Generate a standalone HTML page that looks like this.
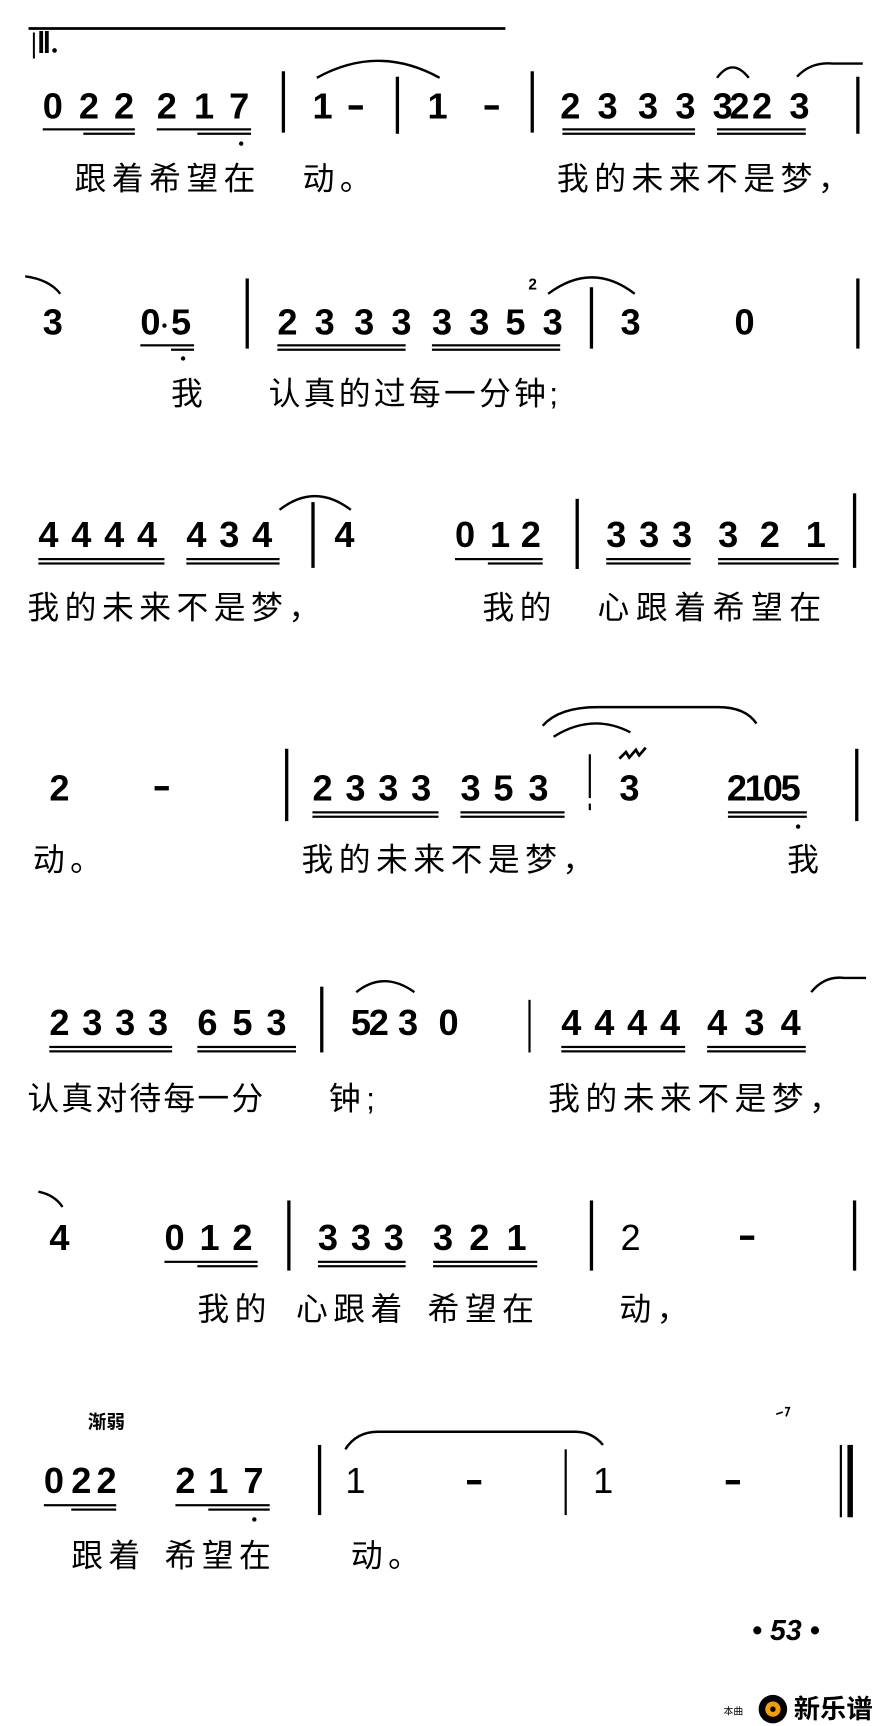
<!DOCTYPE html>
<html><head><meta charset="utf-8">
<style>
html,body{margin:0;padding:0;background:#fff;}
body{width:888px;height:1722px;overflow:hidden;position:relative;}
#w{position:absolute;left:0;top:0;width:810px;height:1571px;transform:scale(1.0963);transform-origin:0 0;}
.d{position:absolute;font:bold 33px/34px "Liberation Sans",sans-serif;color:#000;}
.l{position:absolute;font:29px/28px "Liberation Sans","Noto Sans CJK SC",sans-serif;color:#000;letter-spacing:5px;white-space:nowrap;}
.b{position:absolute;width:3px;background:#000;}
.u{position:absolute;height:2px;background:#000;}
.m{position:absolute;height:4px;width:13px;background:#000;}
.dot{position:absolute;width:4px;height:4px;border-radius:50%;background:#000;}
svg{position:absolute;left:0;top:0;}
</style></head><body><div id="w">
<svg width="810" height="1571" fill="none" stroke="#000" stroke-width="2.2">
<line x1="26" y1="26" x2="461" y2="26" stroke-width="2.5"/>
<path d="M289 71 Q345 40 401 71"/>
<path d="M654 71 Q668 52 683 71"/>
<path d="M727 70 Q740 56 760 58 L787 58"/>
<path d="M23 252 Q45 255 55 268"/>
<path d="M500 268 Q540 238 579 268"/>
<path d="M255 465 Q287 440 320 465"/>
<path d="M495 662 Q510 645 545 645 L655 645 Q680 645 690 660"/>
<path d="M505 672 Q540 650 575 668"/>
<path d="M565 692 l6 -6 l3 5 l6 -7 l3 5 l6 -7" stroke-width="2.5"/>
<path d="M325 905 Q350 885 378 905"/>
<path d="M740 905 Q752 890 770 892 L790 892"/>
<path d="M35 1087 Q50 1090 57 1101"/>
<path d="M315 1322 Q325 1306 345 1306 L525 1306 Q540 1306 550 1318"/>
<path d="M708 1290 l6 -2 M716 1284 l4 0 l-3 8" stroke-width="1.5"/>
</svg>
<div class="d" style="left:28px;top:26px;font:bold 26px/28px 'Liberation Serif',serif;">|Ⅱ.</div>

<!-- Row1 -->
<div class="d" style="left:39px;top:80px">0</div><div class="d" style="left:72px;top:80px">2</div><div class="d" style="left:104px;top:80px">2</div>
<div class="d" style="left:143px;top:80px">2</div><div class="d" style="left:177px;top:80px">1</div><div class="d" style="left:209px;top:80px">7</div>
<div class="u" style="left:39px;top:117px;width:84px"></div><div class="u" style="left:76px;top:121px;width:47px"></div>
<div class="u" style="left:143px;top:117px;width:86px"></div><div class="u" style="left:180px;top:121px;width:49px"></div>
<div class="dot" style="left:218px;top:129px"></div>
<div class="b" style="left:257px;top:65px;height:56px"></div>
<div class="d" style="left:285px;top:80px">1</div><div class="m" style="left:318px;top:96px"></div>
<div class="b" style="left:361px;top:70px;height:52px"></div>
<div class="d" style="left:390px;top:80px">1</div><div class="m" style="left:442px;top:96px"></div>
<div class="b" style="left:484px;top:65px;height:56px"></div>
<div class="d" style="left:511px;top:80px">2</div><div class="d" style="left:545px;top:80px">3</div><div class="d" style="left:582px;top:80px">3</div><div class="d" style="left:616px;top:80px">3</div>
<div class="d" style="left:650px;top:80px;letter-spacing:-3px">32</div><div class="d" style="left:686px;top:80px">2</div><div class="d" style="left:720px;top:80px">3</div>
<div class="u" style="left:513px;top:117px;width:121px"></div><div class="u" style="left:513px;top:121px;width:121px"></div>
<div class="u" style="left:654px;top:117px;width:81px"></div><div class="u" style="left:654px;top:121px;width:81px"></div>
<div class="b" style="left:781px;top:70px;height:52px"></div>
<div class="l" style="left:68px;top:150px">跟着希望在</div><div class="l" style="left:276px;top:150px">动。</div>
<div class="l" style="left:508px;top:150px">我的未来不是梦，</div>

<!-- Row2 -->
<div class="d" style="left:39px;top:277px">3</div>
<div class="d" style="left:128px;top:277px">0</div><div class="dot" style="left:148px;top:295px"></div><div class="d" style="left:156px;top:277px">5</div>
<div class="u" style="left:128px;top:314px;width:49px"></div><div class="u" style="left:156px;top:318px;width:21px"></div>
<div class="dot" style="left:165px;top:325px"></div>
<div class="b" style="left:224px;top:254px;height:64px"></div>
<div class="d" style="left:253px;top:277px">2</div><div class="d" style="left:287px;top:277px">3</div><div class="d" style="left:323px;top:277px">3</div><div class="d" style="left:357px;top:277px">3</div>
<div class="d" style="left:394px;top:277px">3</div><div class="d" style="left:428px;top:277px">3</div><div class="d" style="left:461px;top:277px">5</div><div class="d" style="left:495px;top:277px">3</div>
<div style="position:absolute;left:482px;top:252px;font:bold 14px/14px 'Liberation Sans';">2</div>
<div class="u" style="left:253px;top:314px;width:117px"></div><div class="u" style="left:253px;top:318px;width:117px"></div>
<div class="u" style="left:394px;top:314px;width:117px"></div><div class="u" style="left:394px;top:318px;width:117px"></div>
<div class="b" style="left:538px;top:262px;height:56px"></div>
<div class="d" style="left:566px;top:277px">3</div><div class="d" style="left:670px;top:277px">0</div>
<div class="b" style="left:781px;top:254px;height:64px"></div>
<div class="l" style="left:156px;top:346px">我</div><div class="l" style="left:245px;top:346px;letter-spacing:3px">认真的过每一分钟;</div>

<!-- Row3 -->
<div class="d" style="left:35px;top:471px">4</div><div class="d" style="left:65px;top:471px">4</div><div class="d" style="left:95px;top:471px">4</div><div class="d" style="left:125px;top:471px">4</div>
<div class="d" style="left:170px;top:471px">4</div><div class="d" style="left:200px;top:471px">3</div><div class="d" style="left:230px;top:471px">4</div>
<div class="u" style="left:35px;top:509px;width:115px"></div><div class="u" style="left:35px;top:513px;width:115px"></div>
<div class="u" style="left:170px;top:509px;width:85px"></div><div class="u" style="left:170px;top:513px;width:85px"></div>
<div class="b" style="left:284px;top:458px;height:60px"></div>
<div class="d" style="left:305px;top:471px">4</div>
<div class="d" style="left:415px;top:471px">0</div><div class="d" style="left:447px;top:471px">1</div><div class="d" style="left:475px;top:471px">2</div>
<div class="u" style="left:415px;top:509px;width:80px"></div><div class="u" style="left:445px;top:513px;width:50px"></div>
<div class="b" style="left:525px;top:455px;height:64px"></div>
<div class="d" style="left:553px;top:471px">3</div><div class="d" style="left:583px;top:471px">3</div><div class="d" style="left:613px;top:471px">3</div>
<div class="d" style="left:655px;top:471px">3</div><div class="d" style="left:693px;top:471px">2</div><div class="d" style="left:735px;top:471px">1</div>
<div class="u" style="left:553px;top:509px;width:77px"></div><div class="u" style="left:553px;top:513px;width:77px"></div>
<div class="u" style="left:655px;top:509px;width:110px"></div><div class="u" style="left:655px;top:513px;width:110px"></div>
<div class="b" style="left:778px;top:450px;height:68px"></div>
<div class="l" style="left:25px;top:541px">我的未来不是梦，</div><div class="l" style="left:440px;top:541px">我的</div>
<div class="l" style="left:545px;top:541px;letter-spacing:6px">心跟着希望在</div>

<!-- Row4 -->
<div class="d" style="left:45px;top:702px">2</div><div class="m" style="left:141px;top:717px"></div>
<div class="b" style="left:260px;top:683px;height:66px"></div>
<div class="d" style="left:285px;top:702px">2</div><div class="d" style="left:315px;top:702px">3</div><div class="d" style="left:345px;top:702px">3</div><div class="d" style="left:375px;top:702px">3</div>
<div class="d" style="left:420px;top:702px">3</div><div class="d" style="left:450px;top:702px">5</div><div class="d" style="left:482px;top:702px">3</div>
<div class="u" style="left:285px;top:740px;width:115px"></div><div class="u" style="left:285px;top:744px;width:115px"></div>
<div class="u" style="left:420px;top:740px;width:95px"></div><div class="u" style="left:420px;top:744px;width:95px"></div>
<div class="b" style="left:537px;top:688px;height:40px;width:2px"></div><div class="b" style="left:537px;top:733px;height:6px;width:2px"></div>
<div class="d" style="left:565px;top:702px">3</div>
<div class="d" style="left:663px;top:702px;letter-spacing:-2px">2105</div>
<div class="u" style="left:664px;top:740px;width:72px"></div><div class="u" style="left:664px;top:744px;width:72px"></div>
<div class="dot" style="left:726px;top:752px"></div>
<div class="b" style="left:780px;top:683px;height:66px"></div>
<div class="l" style="left:30px;top:771px">动。</div><div class="l" style="left:275px;top:771px">我的未来不是梦，</div><div class="l" style="left:718px;top:771px">我</div>

<!-- Row5 -->
<div class="d" style="left:45px;top:916px">2</div><div class="d" style="left:75px;top:916px">3</div><div class="d" style="left:105px;top:916px">3</div><div class="d" style="left:135px;top:916px">3</div>
<div class="d" style="left:180px;top:916px">6</div><div class="d" style="left:212px;top:916px">5</div><div class="d" style="left:243px;top:916px">3</div>
<div class="u" style="left:45px;top:954px;width:112px"></div><div class="u" style="left:45px;top:958px;width:112px"></div>
<div class="u" style="left:180px;top:954px;width:90px"></div><div class="u" style="left:180px;top:958px;width:90px"></div>
<div class="b" style="left:292px;top:900px;height:60px"></div>
<div class="d" style="left:320px;top:916px;letter-spacing:-2px">52</div><div class="d" style="left:363px;top:916px">3</div><div class="d" style="left:400px;top:916px">0</div>
<div class="b" style="left:482px;top:912px;height:48px;width:2px"></div>
<div class="d" style="left:512px;top:916px">4</div><div class="d" style="left:542px;top:916px">4</div><div class="d" style="left:572px;top:916px">4</div><div class="d" style="left:602px;top:916px">4</div>
<div class="d" style="left:645px;top:916px">4</div><div class="d" style="left:679px;top:916px">3</div><div class="d" style="left:712px;top:916px">4</div>
<div class="u" style="left:512px;top:954px;width:113px"></div><div class="u" style="left:512px;top:958px;width:113px"></div>
<div class="u" style="left:645px;top:954px;width:90px"></div><div class="u" style="left:645px;top:958px;width:90px"></div>
<div class="l" style="left:25px;top:989px;letter-spacing:2px">认真对待每一分</div><div class="l" style="left:300px;top:989px">钟;</div>
<div class="l" style="left:500px;top:989px">我的未来不是梦，</div>

<!-- Row6 -->
<div class="d" style="left:45px;top:1112px">4</div>
<div class="d" style="left:150px;top:1112px">0</div><div class="d" style="left:182px;top:1112px">1</div><div class="d" style="left:212px;top:1112px">2</div>
<div class="u" style="left:150px;top:1150px;width:85px"></div><div class="u" style="left:180px;top:1154px;width:55px"></div>
<div class="b" style="left:262px;top:1095px;height:64px"></div>
<div class="d" style="left:290px;top:1112px">3</div><div class="d" style="left:320px;top:1112px">3</div><div class="d" style="left:350px;top:1112px">3</div>
<div class="d" style="left:395px;top:1112px">3</div><div class="d" style="left:428px;top:1112px">2</div><div class="d" style="left:462px;top:1112px">1</div>
<div class="u" style="left:290px;top:1150px;width:80px"></div><div class="u" style="left:290px;top:1154px;width:80px"></div>
<div class="u" style="left:395px;top:1150px;width:95px"></div><div class="u" style="left:395px;top:1154px;width:95px"></div>
<div class="b" style="left:538px;top:1095px;height:64px"></div>
<div class="d" style="left:566px;top:1112px;font-weight:normal">2</div><div class="m" style="left:675px;top:1127px"></div>
<div class="b" style="left:778px;top:1095px;height:64px"></div>
<div class="l" style="left:180px;top:1181px">我的</div><div class="l" style="left:270px;top:1181px">心跟着</div>
<div class="l" style="left:390px;top:1181px">希望在</div><div class="l" style="left:565px;top:1181px">动，</div>

<!-- Row7 -->
<div style="position:absolute;left:80px;top:1288px;font:bold 17px/20px 'Liberation Sans','Noto Sans CJK SC',sans-serif;">渐弱</div>
<div class="d" style="left:40px;top:1334px">0</div><div class="d" style="left:65px;top:1334px">2</div><div class="d" style="left:88px;top:1334px">2</div>
<div class="d" style="left:160px;top:1334px">2</div><div class="d" style="left:190px;top:1334px">1</div><div class="d" style="left:222px;top:1334px">7</div>
<div class="u" style="left:40px;top:1372px;width:66px"></div><div class="u" style="left:65px;top:1376px;width:41px"></div>
<div class="u" style="left:160px;top:1372px;width:86px"></div><div class="u" style="left:190px;top:1376px;width:56px"></div>
<div class="dot" style="left:230px;top:1384px"></div>
<div class="b" style="left:290px;top:1318px;height:64px"></div>
<div class="d" style="left:315px;top:1334px;font-weight:normal">1</div><div class="m" style="left:426px;top:1350px"></div>
<div class="b" style="left:515px;top:1322px;height:60px;width:2px"></div>
<div class="d" style="left:541px;top:1334px;font-weight:normal">1</div><div class="m" style="left:662px;top:1350px"></div>
<div class="b" style="left:766px;top:1318px;height:66px;width:2px"></div><div class="b" style="left:773px;top:1318px;height:66px;width:5px"></div>
<div class="l" style="left:65px;top:1406px">跟着</div><div class="l" style="left:150px;top:1406px">希望在</div><div class="l" style="left:320px;top:1406px">动。</div>

<!-- Page number & logo -->
<div style="position:absolute;left:686px;top:1472px;font:italic bold 26px/30px 'Liberation Sans',sans-serif;">• 53 •</div>
<div style="position:absolute;left:660px;top:1556px;font:9px/10px 'Liberation Sans','Noto Sans CJK SC',sans-serif;">本曲</div>
<svg style="left:690px;top:1544px" width="30" height="30"><circle cx="15" cy="15" r="13" fill="#000"/><circle cx="15" cy="15" r="7" fill="#f2a000"/><circle cx="15" cy="15" r="2.5" fill="#000"/></svg>
<div style="position:absolute;left:724px;top:1546px;font:bold 24px/28px 'Liberation Sans','Noto Sans CJK SC',sans-serif;">新乐谱</div>
</div></body></html>
